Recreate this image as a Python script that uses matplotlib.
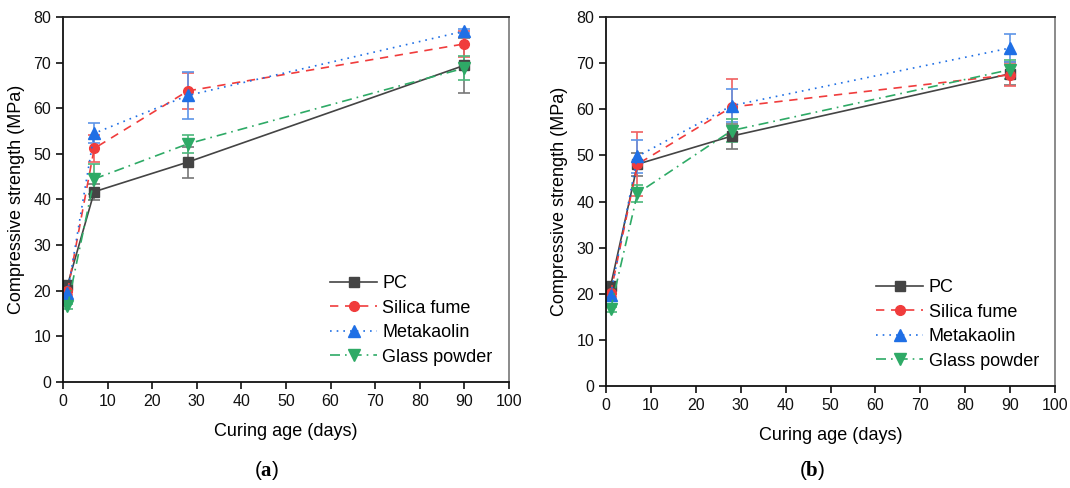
import matplotlib
matplotlib.use("Agg")
import matplotlib.pyplot as plt
from matplotlib.lines import Line2D

plt.rcParams['font.family'] = ['Liberation Sans', 'DejaVu Sans']
plt.rcParams['mathtext.fontset'] = 'custom'
plt.rcParams['mathtext.rm'] = 'Liberation Serif'
plt.rcParams['mathtext.bf'] = 'Liberation Serif:bold'

days = [1, 7, 28, 90]
series_names = ["PC", "Silica fume", "Metakaolin", "Glass powder"]

# Panel (a)
a_pc = [21.2, 41.7, 48.2, 69.4]
a_pc_err = [1.0, 1.8, 3.4, 6.0]
a_sf = [19.9, 51.2, 63.8, 74.1]
a_sf_err = [0.8, 3.0, 4.0, 2.8]
a_mk = [19.5, 54.5, 62.8, 76.9]
a_mk_err = [0.8, 2.2, 5.1, 0.5]
a_gp = [16.6, 44.5, 52.2, 68.8]
a_gp_err = [0.6, 3.2, 2.0, 2.6]

# Panel (b)
b_pc = [21.6, 48.1, 54.2, 67.7]
b_pc_err = [1.0, 2.5, 2.7, 2.5]
b_sf = [20.1, 48.1, 60.5, 67.5]
b_sf_err = [0.8, 7.0, 6.0, 2.5]
b_mk = [19.7, 49.8, 60.8, 73.3]
b_mk_err = [0.8, 3.6, 3.6, 3.0]
b_gp = [16.6, 41.8, 55.4, 68.6]
b_gp_err = [0.6, 1.8, 2.4, 2.0]

x_ticks = list(range(0, 101, 10))
y_ticks = list(range(0, 81, 10))

styles = [
    dict(color="#444444", ecolor="#777777", ls="-", marker="s", ms=7),
    dict(color="#F03C3C", ecolor="#F06060", ls=(0, (5, 4)), marker="o", ms=7),
    dict(color="#1F6FE5", ecolor="#5E95E8", ls=(0, (1, 3)), marker="^", ms=8),
    dict(color="#2EAA66", ecolor="#4CB87C", ls=(0, (6, 3, 1, 3)), marker="v", ms=8),
]

fig = plt.figure(figsize=(10.7, 4.88), dpi=100)
ax_a = fig.add_axes([0.0589, 0.2172, 0.4168, 0.748])
ax_b = fig.add_axes([0.5664, 0.209, 0.4196, 0.756])

def draw(ax, vals, errs):
    handles = []
    for name, v, e, st in zip(series_names, vals, errs, styles):
        ax.errorbar(days, v, yerr=e, color=st["color"], ecolor=st["ecolor"],
                    ls=st["ls"], lw=1.2, marker=st["marker"], ms=st["ms"],
                    elinewidth=1.2, capsize=4, capthick=1.2)
        handles.append(Line2D([], [], color=st["color"], ls=st["ls"], lw=1.2,
                              marker=st["marker"], ms=st["ms"], label=name))
    ax.set_xlim(0, 100)
    ax.set_ylim(0, 80)
    ax.set_xticks(x_ticks)
    ax.set_yticks(y_ticks)
    ax.tick_params(direction="out", length=5, width=1.2, labelsize=11.5,
                   colors="#111111")
    for s in ["left", "bottom"]:
        ax.spines[s].set_linewidth(1.3)
        ax.spines[s].set_color("#111111")
    ax.spines["top"].set_linewidth(1.3)
    ax.spines["top"].set_color("#222222")
    ax.spines["right"].set_linewidth(1.2)
    ax.spines["right"].set_color("#777777")
    ax.set_xlabel("Curing age (days)", fontsize=13, labelpad=10)
    ax.set_ylabel("Compressive strength (MPa)", fontsize=13, labelpad=6)
    ax.legend(handles=handles, loc="lower right", frameon=False, fontsize=13,
              handlelength=2.6, handletextpad=0.3, labelspacing=0.42,
              bbox_to_anchor=(1.0, 0.0))

draw(ax_a, [a_pc, a_sf, a_mk, a_gp], [a_pc_err, a_sf_err, a_mk_err, a_gp_err])
draw(ax_b, [b_pc, b_sf, b_mk, b_gp], [b_pc_err, b_sf_err, b_mk_err, b_gp_err])

fig.text(0.249, 0.035, r"($\mathbf{a}$)", ha="center", va="center", fontsize=15)
fig.text(0.759, 0.035, r"($\mathbf{b}$)", ha="center", va="center", fontsize=15)

fig.savefig("out.png", dpi=100)
